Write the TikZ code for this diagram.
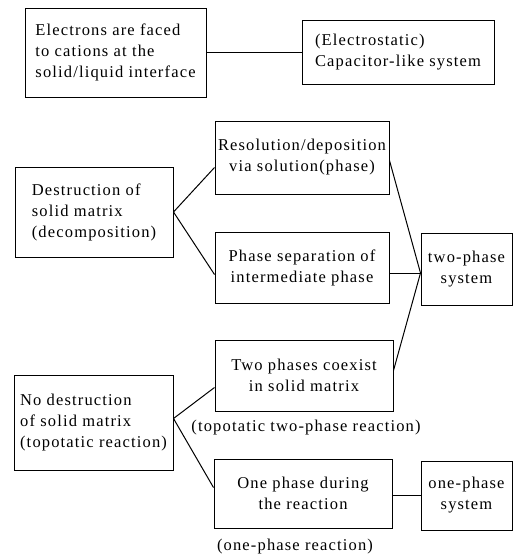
\documentclass[tikz,border=0pt]{standalone}
\usepackage{fontspec}
\setmainfont[LetterSpace=7]{Liberation Serif}
\begin{document}
\begin{tikzpicture}[x=1pt,y=-1pt,
  box/.style={draw,line width=1pt,inner sep=0pt,font=\fontsize{16.5}{21}\selectfont},
  lbl/.style={inner sep=0pt,font=\fontsize{16.5}{21}\selectfont},
  conn/.style={line width=1pt}]
\useasboundingbox (0,0) rectangle (515,555);
\node[box,minimum width=181pt,minimum height=89pt,align=left] (elec) at (115.5,52.5)
  {Electrons are faced\\to cations at the\\solid/liquid interface};
\node[box,minimum width=192pt,minimum height=64pt,align=left] (cap) at (398,52.5)
  {(Electrostatic)\\Capacitor-like system};
\node[box,minimum width=174pt,minimum height=73pt,align=center] (res) at (302,157.5)
  {Resolution/deposition\\via solution(phase)};
\node[box,minimum width=158pt,minimum height=90pt,align=left] (dest) at (94,212)
  {Destruction of\\solid matrix\\(decomposition)};
\node[box,minimum width=174pt,minimum height=71pt,align=center] (sep) at (302,267.5)
  {Phase separation of\\intermediate phase};
\node[box,minimum width=91pt,minimum height=72pt,align=center] (two) at (466.5,269)
  {two-phase\\system};
\node[box,minimum width=178pt,minimum height=71pt,align=center] (coex) at (304,375.5)
  {Two phases coexist\\in solid matrix};
\node[box,minimum width=159pt,minimum height=95pt,align=left] (nodest) at (93.5,422.5)
  {No destruction\\of solid matrix\\(topotatic reaction)};
\node[box,minimum width=178pt,minimum height=69pt,align=center] (one) at (303,493.5)
  {One phase during\\the reaction};
\node[box,minimum width=91pt,minimum height=69pt,align=center] (onesys) at (466.5,495.5)
  {one-phase\\system};
\node[lbl] (lab1) at (306,428) {(topotatic two-phase reaction)};
\node[lbl] (lab2) at (295,547) {(one-phase reaction)};
\coordinate (j) at ([yshift=-4pt]two.west);
\draw[conn] (elec.east) -- (elec.east -| cap.west);
\draw[conn] (dest.east) -- ([yshift=-10pt]res.west);
\draw[conn] (dest.east) -- ([yshift=-7pt]sep.west);
\draw[conn] ([yshift=-3pt]res.east) -- (j);
\draw[conn] (sep.east |- j) -- (j);
\draw[conn] ([yshift=5pt]coex.east) -- (j);
\draw[conn] ([yshift=4pt]nodest.east) -- ([yshift=-12pt]coex.west);
\draw[conn] ([yshift=4pt]nodest.east) -- ([yshift=6pt]one.west);
\draw[conn] (one.east |- onesys.west) -- (onesys.west);
\end{tikzpicture}
\end{document}
